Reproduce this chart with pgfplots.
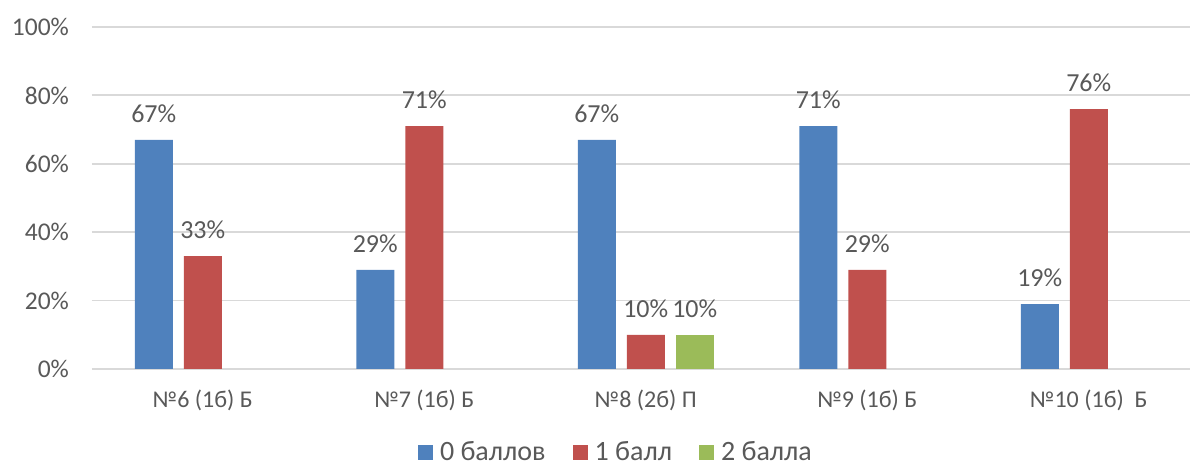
\documentclass[border=0pt]{standalone}
\usepackage{fontspec}
\setmainfont{Carlito}
\usepackage{pgfplots}
\pgfplotsset{compat=1.18}
\definecolor{cblue}{HTML}{4F81BD}
\definecolor{cred}{HTML}{C0504D}
\definecolor{cgreen}{HTML}{9BBB59}
\definecolor{ctext}{HTML}{595959}
\definecolor{cgrid}{HTML}{D9D9D9}
\begin{document}
\fontsize{13}{15}\selectfont
\begin{tikzpicture}
\path[use as bounding box] (0,0) rectangle (595pt,233pt);
\begin{axis}[
  at={(46pt,48.5pt)}, anchor=south west,
  scale only axis,
  width=549pt, height=171pt,
  xmin=-0.5, xmax=4.457,
  ymin=0, ymax=100,
  ytick={0,20,40,60,80,100},
  yticklabel={\pgfmathprintnumber{\tick}\%},
  xtick={0,1,2,3,4},
  xticklabels={№6 (1б) Б,№7 (1б) Б,№8 (2б) П,№9 (1б) Б,№10 (1б)~~Б},
  ymajorgrids,
  grid style={cgrid, line width=0.9pt},
  axis line style={draw=none},
  major tick length=0pt,
  ticklabel style={text=ctext, font=\fontsize{12.75}{15}\selectfont},
  xticklabel style={font=\fontsize{12}{14}\selectfont, yshift=-6pt},
  /pgf/number format/assume math mode=true,
  yticklabel style={xshift=-7pt},
  ybar=0pt,
  bar width=19pt,
  nodes near coords={\pgfmathprintnumber{\pgfplotspointmeta}\%},
  every node near coord/.append style={text=ctext, font=\fontsize{13}{15}\selectfont, inner sep=0pt, yshift=8.5pt},
  legend columns=3,
  legend style={at={(0.4763,-0.245)}, anchor=center, draw=none, fill=none,
    font=\fontsize{14}{16}\selectfont, text=ctext, inner sep=0pt,
    nodes={inner sep=0pt},
    /tikz/every odd column/.append style={column sep=3.5pt},
    /tikz/every even column/.append style={column sep=13.5pt}},
  legend image code/.code={\fill[#1] (0pt,-3.75pt) rectangle (7.5pt,3.75pt);},
]
\addplot[fill=cblue, draw=none, bar shift=-24.5pt] coordinates {(0,67) (1,29) (2,67) (3,71) (4,19)};
\addplot[fill=cred, draw=none, bar shift=0pt] coordinates {(0,33) (1,71) (2,10) (3,29) (4,76)};
\addplot[fill=cgreen, draw=none, bar shift=24.5pt] coordinates {(2,10)};
\legend{0 баллов, 1 балл, 2 балла}
\end{axis}
\end{tikzpicture}
\end{document}
